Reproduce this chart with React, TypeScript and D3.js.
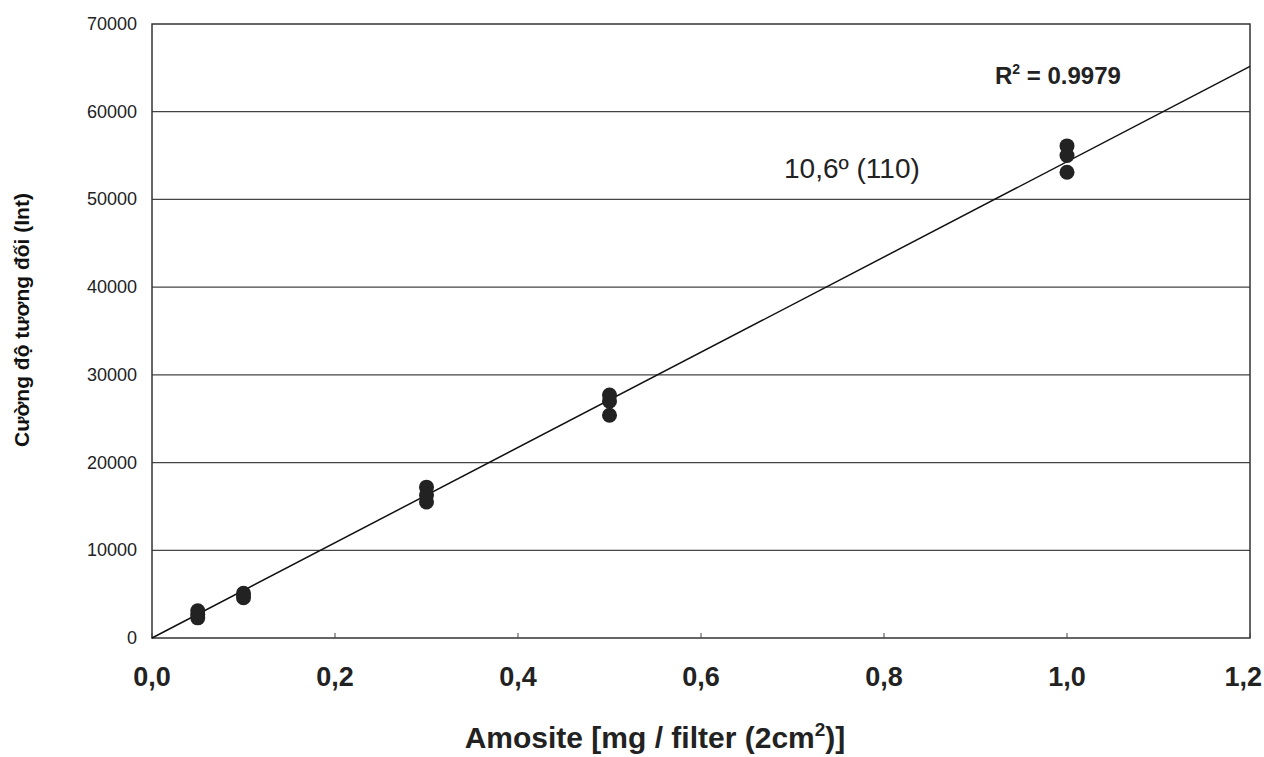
import React from "react";
import * as d3 from "d3";

const xTicks = [0, 0.2, 0.4, 0.6, 0.8, 1.0, 1.2];
const yTicks = [0, 10000, 20000, 30000, 40000, 50000, 60000, 70000];
const sampleX = [0.05, 0.05, 0.05, 0.1, 0.1, 0.3, 0.3, 0.3, 0.5, 0.5, 0.5, 1.0, 1.0, 1.0];
const sampleY = [3100, 2700, 2300, 5100, 4600, 17200, 16300, 15500, 27700, 27000, 25400, 56100, 55000, 53100];
const fitSlope = 54300;
const fitIntercept = 0;
const r2Label = "0.9979";
const peakLabel = "10,6º (110)";

const W = 1264, H = 757;
const M = { left: 152, right: 1250, top: 24, bottom: 638 };
const FONT = "'Liberation Sans', Arial, sans-serif";

export default function App() {
  const x = d3.scaleLinear().domain([0, 1.2]).range([M.left, M.right]);
  const y = d3.scaleLinear().domain([0, 70000]).range([M.bottom, M.top]);
  const fmtX = (v: number) => v.toFixed(1).replace(".", ",");
  const line = d3.line<number>().x((d) => x(d)).y((d) => y(fitIntercept + fitSlope * d));
  return (
    <svg width={W} height={H} style={{ position: "absolute", left: 0, top: 0, background: "#fff" }}>
      <rect x={0} y={0} width={W} height={H} fill="#fff" />
      {yTicks.map((t) => (
        <g key={t}>
          {t > 0 && t < 70000 && (
            <line x1={M.left} x2={M.right} y1={y(t)} y2={y(t)} stroke="#444" strokeWidth={1.2} />
          )}
          <text x={137} y={y(t) + 6} textAnchor="end" fontFamily={FONT} fontSize={18} fill="#222">
            {t}
          </text>
        </g>
      ))}
      <rect x={M.left} y={M.top} width={M.right - M.left} height={M.bottom - M.top} fill="none" stroke="#333" strokeWidth={1.5} />
      {xTicks.map((t, i) => {
        const last = i === xTicks.length - 1;
        return (
          <g key={t}>
            <line x1={x(t)} x2={x(t)} y1={M.bottom} y2={M.bottom - 5} stroke="#444" strokeWidth={1} />
            <text
              x={last ? W - 2 : x(t)}
              y={686}
              textAnchor={last ? "end" : "middle"}
              fontFamily={FONT}
              fontSize={27}
              fontWeight="bold"
              fill="#222"
            >
              {fmtX(t)}
            </text>
          </g>
        );
      })}
      <path d={line([0, 1.2]) || ""} fill="none" stroke="#111" strokeWidth={1.5} />
      {sampleX.map((v, i) => (
        <circle key={i} cx={x(v)} cy={y(sampleY[i])} r={7.5} fill="#222" />
      ))}
      <text x={995} y={84} fontFamily={FONT} fontSize={24} fontWeight="bold" fill="#222">
        R<tspan dy={-10} fontSize={14}>2</tspan><tspan dy={10}> = {r2Label}</tspan>
      </text>
      <text x={784} y={178} fontFamily={FONT} fontSize={28} fill="#222">
        {peakLabel}
      </text>
      <text
        transform={`translate(29, 320) rotate(-90)`}
        textAnchor="middle"
        fontFamily={FONT}
        fontSize={21}
        fontWeight="bold"
        fill="#111"
      >
        Cường độ tương đối (Int)
      </text>
      <text x={655} y={748} textAnchor="middle" fontFamily={FONT} fontSize={30} fontWeight="bold" fill="#222">
        Amosite [mg / filter (2cm<tspan dy={-12} fontSize={19}>2</tspan><tspan dy={12}>)]</tspan>
      </text>
    </svg>
  );
}
